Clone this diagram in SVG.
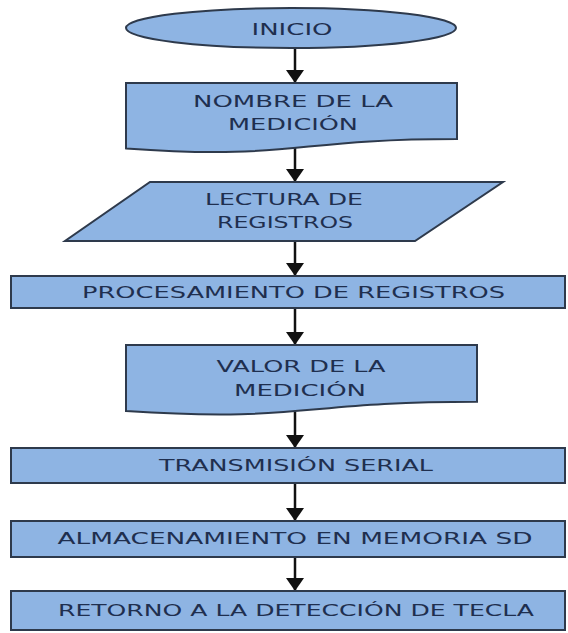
<svg xmlns="http://www.w3.org/2000/svg" width="568" height="633" viewBox="0 0 568 633">
<style>
.s{fill:#8eb4e3;stroke:#2e3a4c;stroke-width:2}
.t{font-family:"DejaVu Sans",sans-serif;font-size:15px;fill:#1f2f4f;text-anchor:middle;dominant-baseline:central}
.c{stroke:#111;stroke-width:2.5;fill:none}
</style>
<defs>
<marker id="ah" viewBox="0 0 13 18" refX="13" refY="9" markerWidth="13" markerHeight="18" markerUnits="userSpaceOnUse" orient="auto">
<path d="M0,0 L13,9 L0,18 Z" fill="#111"/>
</marker>
</defs>
<rect width="568" height="633" fill="#fff"/>
<g id="connectors">
<line class="c" x1="295" y1="48" x2="295" y2="83" marker-end="url(#ah)"/>
<line class="c" x1="295" y1="148" x2="295" y2="182" marker-end="url(#ah)"/>
<line class="c" x1="295" y1="241" x2="295" y2="276" marker-end="url(#ah)"/>
<line class="c" x1="295" y1="308" x2="295" y2="345" marker-end="url(#ah)"/>
<line class="c" x1="295" y1="412" x2="295" y2="448" marker-end="url(#ah)"/>
<line class="c" x1="295" y1="483" x2="295" y2="521" marker-end="url(#ah)"/>
<line class="c" x1="295" y1="557" x2="295" y2="591" marker-end="url(#ah)"/>
</g>
<g id="inicio">
<ellipse class="s" cx="291" cy="28" rx="165" ry="20"/>
<text class="t" x="292" y="30" textLength="81" lengthAdjust="spacingAndGlyphs">INICIO</text>
</g>
<g id="nombre">
<path class="s" d="M126,83 H457 V139 C291.5,139 291.5,160.5 126,148.4 Z"/>
<text class="t" x="293" y="102" textLength="200" lengthAdjust="spacingAndGlyphs">NOMBRE DE LA</text>
<text class="t" x="293" y="125" textLength="130" lengthAdjust="spacingAndGlyphs">MEDICIÓN</text>
</g>
<g id="lectura">
<path class="s" d="M150,182 H503 L415,241 H65 Z"/>
<text class="t" x="284" y="200" textLength="158" lengthAdjust="spacingAndGlyphs">LECTURA DE</text>
<text class="t" x="285" y="223" textLength="136" lengthAdjust="spacingAndGlyphs">REGISTROS</text>
</g>
<g id="procesamiento">
<rect class="s" x="11" y="276" width="554" height="32"/>
<text class="t" x="293.5" y="293" textLength="423" lengthAdjust="spacingAndGlyphs">PROCESAMIENTO DE REGISTROS</text>
</g>
<g id="valor">
<path class="s" d="M126,345 H477 V401.7 C301.5,401.7 301.5,422.5 126,411 Z"/>
<text class="t" x="301" y="367" textLength="169" lengthAdjust="spacingAndGlyphs">VALOR DE LA</text>
<text class="t" x="300" y="391" textLength="132" lengthAdjust="spacingAndGlyphs">MEDICIÓN</text>
</g>
<g id="transmision">
<rect class="s" x="11" y="448" width="554" height="35"/>
<text class="t" x="296" y="466" textLength="274" lengthAdjust="spacingAndGlyphs">TRANSMISIÓN SERIAL</text>
</g>
<g id="almacenamiento">
<rect class="s" x="11" y="521" width="554" height="36"/>
<text class="t" x="295" y="539" textLength="475" lengthAdjust="spacingAndGlyphs">ALMACENAMIENTO EN MEMORIA SD</text>
</g>
<g id="retorno">
<rect class="s" x="11" y="591" width="554" height="39"/>
<text class="t" x="296" y="611" textLength="476" lengthAdjust="spacingAndGlyphs">RETORNO A LA DETECCIÓN DE TECLA</text>
</g>
</svg>
